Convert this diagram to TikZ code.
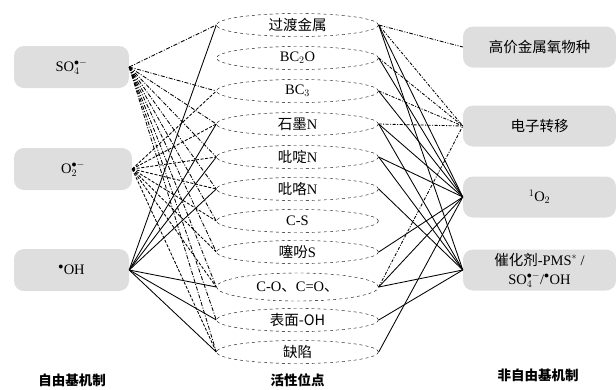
\documentclass[tikz,border=0pt]{standalone}
\usepackage{fontspec}
\setmainfont{Liberation Serif}
\newfontfamily\cjk{Noto Sans CJK SC}
\usetikzlibrary{positioning, shapes.geometric}

\begin{document}
\begin{tikzpicture}[
    x=1pt, y=-1pt,
    mech/.style={fill=black!13, rectangle, rounded corners=10pt, align=center, font=\fontsize{14.5}{19}\selectfont, inner sep=0pt},
    site/.style={draw, dashed, ellipse, minimum width=162pt, minimum height=23pt, inner sep=0pt, font=\fontsize{14.5}{17}\selectfont},
    title/.style={font=\fontsize{13.5}{15}\selectfont\cjk\bfseries},
    rad/.style={line width=0.85pt, dash pattern=on 4pt off 1.6pt on 1pt off 1.6pt},
    sup/.style={line width=0.85pt, dash pattern=on 3pt off 1.6pt},
    hyd/.style={line width=0.85pt},
    hvline/.style={line width=0.85pt, dash pattern=on 4pt off 1.5pt on 1pt off 1.5pt on 1pt off 1.5pt},
    etline/.style={line width=0.85pt, dash pattern=on 3pt off 1.5pt on 1pt off 1.5pt}
]
    \useasboundingbox (0,0) rectangle (616,389);

    % free radical species
    \node[mech, minimum width=115pt, minimum height=42pt] (so4) at (71.5,67) {SO$_4^{\bullet-}$};
    \node[mech, minimum width=118pt, minimum height=42pt] (o2) at (73,169) {O$_2^{\bullet-}$};
    \node[mech, minimum width=115pt, minimum height=42pt] (oh) at (71.5,270) {$^{\bullet}$OH};

    % active sites
    \node[site] (tm) at (297.5,25) {\cjk 过渡金属};
    \node[site] (bc2o) at (297.5,58) {BC$_2$O};
    \node[site] (bc3) at (297.5,91) {BC$_3$};
    \node[site] (gn) at (297.5,124) {{\cjk 石墨}N};
    \node[site] (pyn) at (297.5,157) {{\cjk 吡啶}N};
    \node[site] (prn) at (297.5,189) {{\cjk 吡咯}N};
    \node[site] (cs) at (297.5,221) {C-S};
    \node[site] (ths) at (297.5,252) {{\cjk 噻吩}S};
    \node[site, minimum height=28pt] (co) at (297.5,287) {C-O{\cjk 、}C=O{\cjk 、}};
    \node[site] (soh) at (297.5,320) {\cjk 表面-OH};
    \node[site] (def) at (297.5,352) {\cjk 缺陷};

    % non-radical pathways
    \node[mech, minimum width=153pt, minimum height=41pt] (hvm) at (539.5,47) {\cjk 高价金属氧物种};
    \node[mech, minimum width=153pt, minimum height=41pt] (et) at (539.5,126) {\cjk 电子转移};
    \node[mech, minimum width=153pt, minimum height=41pt] (singlet) at (539.5,197) {$^1$O$_2$};
    \node[mech, minimum width=153pt, minimum height=41pt] (cat) at (539.5,270) {{\cjk 催化剂}-PMS$^*$ /\\SO$_4^{\bullet-}$/$^{\bullet}$OH};

    % left links
    \foreach \t in {tm, bc3, gn, pyn, prn, cs, ths, co, soh, def}
        \draw[rad] (so4.east) -- (\t.west);
    \foreach \t in {bc3, gn, pyn, prn, cs, ths, co, def}
        \draw[sup] (o2.east) -- (\t.west);
    \foreach \t in {tm, gn, pyn, prn, co, soh, def}
        \draw[hyd] (oh.east) -- (\t.west);

    % right links
    \draw[hvline] (tm.east) -- (hvm.west);
    \foreach \t in {tm, bc2o, bc3, gn, co}
        \draw[etline] (\t.east) -- (et.west);
    \foreach \t in {tm, bc2o, bc3, gn, pyn, ths, co, def}
        \draw[hyd] (\t.east) -- (singlet.west);
    \foreach \t in {tm, gn, pyn, prn, co, soh}
        \draw[hyd] (\t.east) -- (cat.west);

    % column titles
    \node[title] (ltitle) at (72,380) {自由基机制};
    \node[title] (mtitle) at (297.5,380) {活性位点};
    \node[title] (rtitle) at (538,375) {非自由基机制};
\end{tikzpicture}
\end{document}
